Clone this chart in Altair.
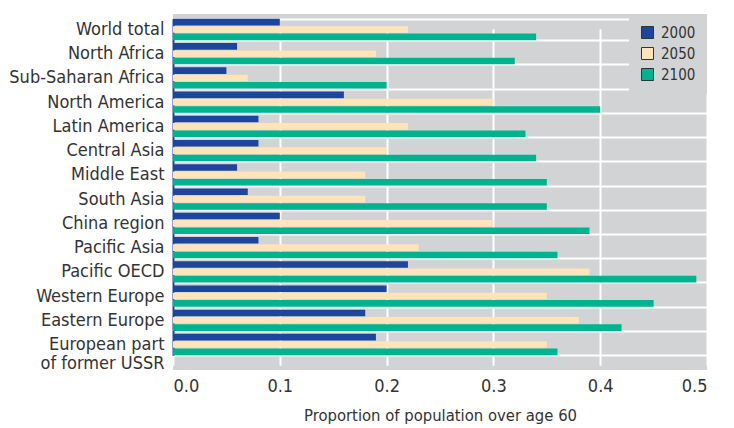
import altair as alt
import pandas as pd

regions = ["World total", "North Africa", "Sub-Saharan Africa", "North America",
           "Latin America", "Central Asia", "Middle East", "South Asia",
           "China region", "Pacific Asia", "Pacific OECD", "Western Europe",
           "Eastern Europe", "European part of former USSR"]
v2000 = [0.10, 0.06, 0.05, 0.16, 0.08, 0.08, 0.06, 0.07, 0.10, 0.08, 0.22, 0.20, 0.18, 0.19]
v2050 = [0.22, 0.19, 0.07, 0.30, 0.22, 0.20, 0.18, 0.18, 0.30, 0.23, 0.39, 0.35, 0.38, 0.35]
v2100 = [0.34, 0.32, 0.20, 0.40, 0.33, 0.34, 0.35, 0.35, 0.39, 0.36, 0.49, 0.45, 0.42, 0.36]
years = ["2000", "2050", "2100"]
colors = ["#1d459c", "#fee4b8", "#00b38f"]
x_ticks = [0.0, 0.1, 0.2, 0.3, 0.4, 0.5]

rows = []
for i, r in enumerate(regions):
    for yr, vals in zip(years, [v2000, v2050, v2100]):
        rows.append({"region": r, "year": yr, "value": vals[i]})
df = pd.DataFrame(rows)

bg = "#d1d3d5"
txt = "#333333"
font = "DejaVu Sans Condensed, Open Sans, sans-serif"

chart = alt.Chart(df).mark_bar().encode(
    y=alt.Y("region:N", sort=regions,
            scale=alt.Scale(paddingInner=0.12, paddingOuter=0, range=[4.8, 341.2]),
            axis=alt.Axis(title=None, labelFontSize=18, labelColor=txt, labelPadding=9,
                          labelLineHeight=19,
                          ticks=False, domainColor="#1d459c", domainWidth=2,
                          grid=True, gridColor="white", gridWidth=2, tickBand="extent",
                          labelExpr="datum.label == 'European part of former USSR' ? ['European part', 'of former USSR'] : datum.label")),
    yOffset=alt.YOffset("year:N", sort=years, scale=alt.Scale(paddingInner=0.1)),
    x=alt.X("value:Q", scale=alt.Scale(domain=[0, 0.5], nice=False),
            axis=alt.Axis(values=x_ticks, format=".1f",
                          title="Proportion of population over age 60",
                          grid=True, gridColor="white", gridWidth=2, ticks=False,
                          domain=False, labelFontSize=18, labelColor=txt,
                          titleFontSize=16.5, titleFontWeight="normal", titleColor=txt,
                          labelPadding=7, titlePadding=12)),
    color=alt.Color("year:N", sort=years,
                    scale=alt.Scale(domain=years, range=colors),
                    legend=alt.Legend(title=None, orient="top-right", fillColor=bg,
                                      symbolType="square", symbolSize=144,
                                      symbolStrokeColor="#333333", symbolStrokeWidth=1,
                                      labelFontSize=15, labelColor=txt, rowPadding=4,
                                      labelOffset=6, padding=11, offset=0)),
).properties(width=534, height=356).configure(
    font=font, padding={"top": -3, "bottom": 0, "left": 0, "right": 0},
).configure_view(fill=bg, stroke=None)

chart.save("out.html", embed_options={"renderer": "svg", "actions": False})
